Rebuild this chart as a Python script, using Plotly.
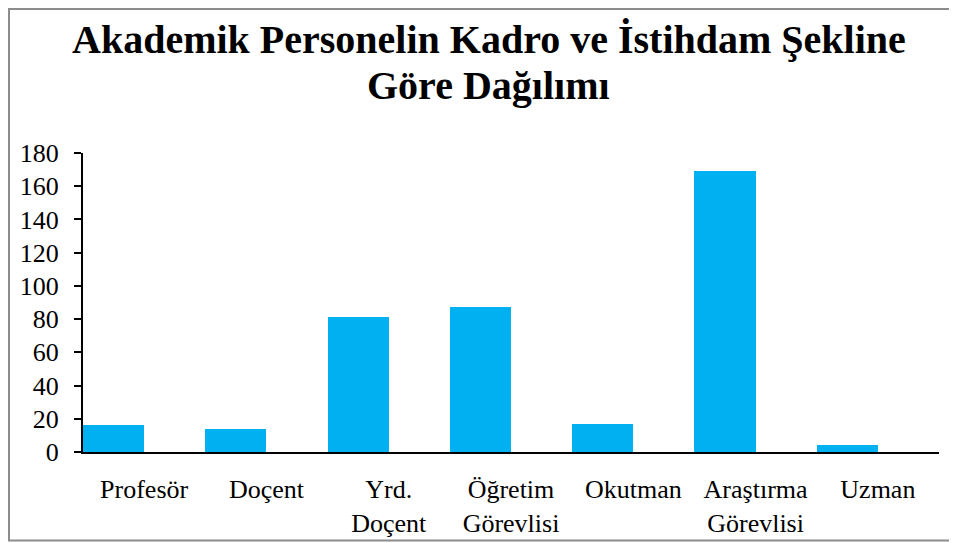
import plotly.graph_objects as go

categories = ["Profesör", "Doçent", "Yrd.<br>Doçent", "Öğretim<br>Görevlisi",
              "Okutman", "Araştırma<br>Görevlisi", "Uzman"]
values = [16, 14, 81, 87, 17, 169, 4]
empty_series = [0, 0, 0, 0, 0, 0, 0]
y_ticks = [0, 20, 40, 60, 80, 100, 120, 140, 160, 180]
title_lines = ["Akademik Personelin Kadro ve İstihdam Şekline", "Göre Dağılımı"]

FONT = "Liberation Serif"
# page has an 8px body margin, so the figure is drawn 8px in from the top-left
W, H = 949, 535
L, R, T, B = 75, 18, 145, 91
pw, ph = W - L - R, H - T - B

def px_x(px):
    return (px - L) / pw

def px_y(py):
    return (H - B - py) / ph

fig = go.Figure()
fig.add_trace(go.Bar(x=categories, y=values, marker=dict(color="#00B0F0", line=dict(width=0)),
                     showlegend=False, hoverinfo="y"))
fig.add_trace(go.Bar(x=categories, y=empty_series, marker=dict(color="rgba(0,0,0,0)", line=dict(width=0)),
                     showlegend=False, hoverinfo="skip"))

annotations = []
for i, (line, top) in enumerate(zip(title_lines, [7, 53])):
    annotations.append(dict(text="<b>" + line + "</b>", xref="paper", yref="paper",
                            x=px_x(480.5), y=px_y(top), xanchor="center", yanchor="top",
                            showarrow=False,
                            font=dict(size=40, family=FONT, color="black")))

fig.update_layout(
    width=W, height=H,
    margin=dict(l=L, r=R, t=T, b=B, pad=0, autoexpand=False),
    paper_bgcolor="white", plot_bgcolor="white",
    barmode="group", bargap=0, bargroupgap=0,
    font=dict(family=FONT, color="black"),
    annotations=annotations,
    xaxis=dict(range=[-0.5, 6.5], showline=True, linecolor="black", linewidth=2,
               ticks="", showgrid=False, zeroline=False, automargin=False,
               tickfont=dict(size=26, family=FONT, color="black"), tickangle=0,
               ticklabelstandoff=13),
    yaxis=dict(range=[0, 180], tickvals=y_ticks, showline=True, linecolor="black", linewidth=2,
               ticks="outside", ticklen=7, tickwidth=2, tickcolor="black",
               showgrid=False, zeroline=False, automargin=False,
               tickfont=dict(size=26, family=FONT, color="black"), ticklabelstandoff=10),
    shapes=[dict(type="rect", xref="paper", yref="paper",
                 x0=px_x(1), x1=px_x(960), y0=px_y(532.5), y1=px_y(1),
                 line=dict(color="#8c8c8c", width=2), fillcolor="rgba(0,0,0,0)", layer="below")],
)

fig.write_html("out.html")
